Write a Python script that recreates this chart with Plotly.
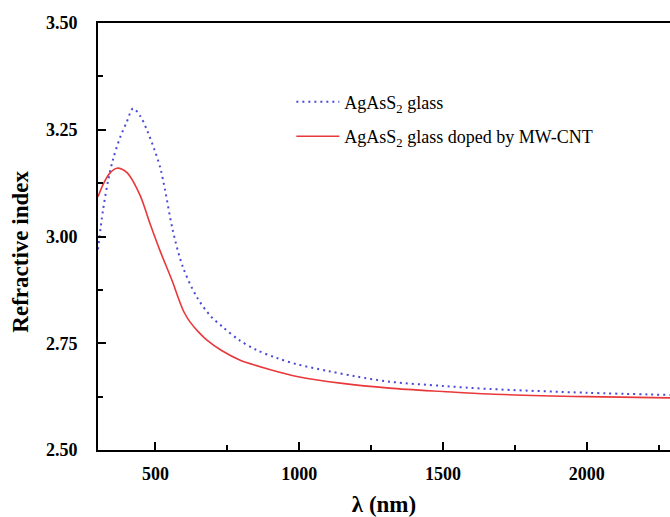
import plotly.graph_objects as go

# Wavelength (nm) and refractive index for the undoped glass
wl_glass = [300, 317, 335, 352, 377, 400, 422, 447, 470, 498, 517, 533, 560,
            595, 644, 690, 734, 790, 852, 920, 991, 1100, 1200, 1314, 1500,
            1661, 2000, 2290]
n_glass = [2.970, 3.060, 3.130, 3.180, 3.232, 3.268, 3.300, 3.282, 3.250,
           3.200, 3.160, 3.110, 3.015, 2.929, 2.858, 2.815, 2.788, 2.758,
           2.734, 2.716, 2.701, 2.685, 2.672, 2.660, 2.650, 2.643, 2.634,
           2.629]

# Wavelength (nm) and refractive index for the MW-CNT doped glass
wl_doped = [300, 320, 342, 366, 400, 446, 480, 515, 560, 580, 600, 620, 650,
            678, 730, 793, 900, 1001, 1150, 1314, 1500, 1661, 2000, 2290]
n_doped = [3.093, 3.125, 3.149, 3.160, 3.150, 3.097, 3.032, 2.968,
           2.893, 2.855, 2.822, 2.800, 2.776, 2.758, 2.733, 2.711, 2.688,
           2.671, 2.656, 2.645, 2.637, 2.631, 2.625, 2.622]

x_ticks = [500, 1000, 1500, 2000]
y_ticks = [2.50, 2.75, 3.00, 3.25, 3.50]

serif = "Liberation Serif, Times New Roman, serif"

fig = go.Figure()
fig.add_trace(go.Scatter(
    x=wl_glass, y=n_glass, mode="lines", line_shape="spline",
    name="AgAsS<sub>2</sub> glass", legendgroup="a",
    line=dict(color="#4a4ad8", width=2, dash="2px,4px", smoothing=0.9),
))
fig.add_trace(go.Scatter(
    x=wl_doped, y=n_doped, mode="lines", line_shape="spline",
    name="AgAsS<sub>2</sub> glass doped by MW-CNT", legendgroup="b",
    line=dict(color="#e8383a", width=1.6, smoothing=0.9),
))

# Rotated y-axis title placed as a paper annotation
fig.add_annotation(
    text="Refractive index", textangle=-90, showarrow=False,
    xref="paper", yref="paper", x=-0.136, y=0.465,
    xanchor="center", yanchor="middle",
    font=dict(size=23, family=serif, weight="bold"),
)

fig.update_layout(
    width=670, height=517,
    margin=dict(l=98, r=0, t=23, b=67),
    paper_bgcolor="white", plot_bgcolor="white",
    font=dict(family=serif, color="black"),
    showlegend=True,
    legend=dict(
        x=0.338, y=0.858, xanchor="left", yanchor="top",
        bgcolor="rgba(0,0,0,0)", font=dict(size=18, family=serif),
        tracegroupgap=8, itemwidth=43,
    ),
    xaxis=dict(
        range=[300, 2290], tickvals=x_ticks,
        ticks="inside", ticklen=8, tickwidth=2, tickcolor="black",
        minor=dict(dtick=250, tick0=250, ticks="inside", ticklen=5,
                   tickwidth=2, tickcolor="black"),
        showline=True, linecolor="black", linewidth=2, mirror=True,
        showgrid=False, zeroline=False, ticklabelstandoff=6,
        tickfont=dict(size=18, family=serif, weight="bold"),
        title=dict(text="λ (nm)", standoff=14,
                   font=dict(size=23, family=serif, weight="bold")),
    ),
    yaxis=dict(
        range=[2.5, 3.5], tickvals=y_ticks, tickformat=".2f",
        ticks="inside", ticklen=8, tickwidth=2, tickcolor="black",
        minor=dict(dtick=0.125, tick0=2.5, ticks="inside", ticklen=5,
                   tickwidth=2, tickcolor="black"),
        showline=True, linecolor="black", linewidth=2, mirror=False,
        showgrid=False, zeroline=False, ticklabelstandoff=15,
        tickfont=dict(size=18, family=serif, weight="bold"),
    ),
)

fig.write_html("out.html")
